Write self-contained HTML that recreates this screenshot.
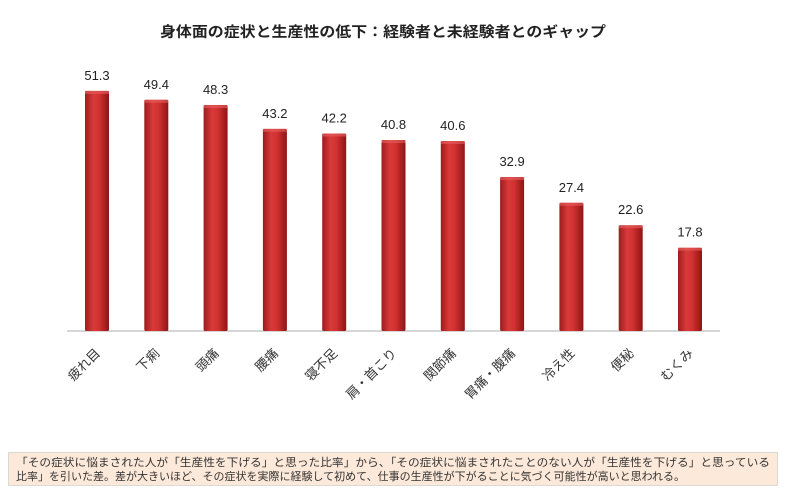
<!DOCTYPE html>
<html><head><meta charset="utf-8"><style>
body{margin:0;background:#fff;width:791px;height:496px;overflow:hidden}
svg{font-family:"Liberation Sans","Noto Sans CJK JP",sans-serif}
</style></head><body>
<svg width="791" height="496" viewBox="0 0 791 496">
<defs>
<linearGradient id="g" x1="0" x2="1" y1="0" y2="0">
<stop offset="0" stop-color="#9e1c1c"/><stop offset="0.35" stop-color="#d93a3a"/><stop offset="0.6" stop-color="#d03030"/><stop offset="1" stop-color="#8e1515"/>
</linearGradient>
</defs>
<text x="383" y="37" text-anchor="middle" font-size="14.5" font-weight="bold" fill="#222" textLength="446" lengthAdjust="spacingAndGlyphs">身体面の症状と生産性の低下：経験者と未経験者とのギャップ</text>
<line x1="67" y1="331" x2="720" y2="331" stroke="#c8c8c8" stroke-width="1.5"/>
<g id="bars"></g>
<rect x="8.5" y="452.5" width="769" height="33" fill="#fde9d9" stroke="#bbb" stroke-dasharray="1,1"/>
<text x="16" y="466" font-size="11" fill="#333" textLength="754" lengthAdjust="spacingAndGlyphs">「その症状に悩まされた人が「生産性を下げる」と思った比率」から、「その症状に悩まされたことのない人が「生産性を下げる」と思っている</text>
<text x="16" y="480" font-size="11" fill="#333">比率」を引いた差。差が大きいほど、その症状を実際に経験して初めて、仕事の生産性が下がることに気づく可能性が高いと思われる。</text>
</svg>
<script>
var d=[["疲れ目",51.3],["下痢",49.4],["頭痛",48.3],["腰痛",43.2],["寝不足",42.2],["肩・首こり",40.8],["関節痛",40.6],["胃痛・腹痛",32.9],["冷え性",27.4],["便秘",22.6],["むくみ",17.8]];
var s="";
d.forEach(function(e,i){var cx=97+i*59.3,h=e[1]*4.68,y=331-h;
s+='<rect x="'+(cx-12)+'" y="'+y+'" width="24" height="'+h+'" fill="url(#g)" rx="1.5"/>';
s+='<rect x="'+(cx-12)+'" y="'+y+'" width="24" height="3" fill="#e86060" opacity="0.6"/>';
s+='<text x="'+cx+'" y="'+(y-11)+'" text-anchor="middle" font-size="13" fill="#222">'+e[1].toFixed(1)+'</text>';
s+='<text transform="translate('+(cx+4)+',354) rotate(-45)" text-anchor="end" font-size="13" fill="#333">'+e[0]+'</text>';});
document.getElementById("bars").innerHTML=s;
</script>
</body></html>
